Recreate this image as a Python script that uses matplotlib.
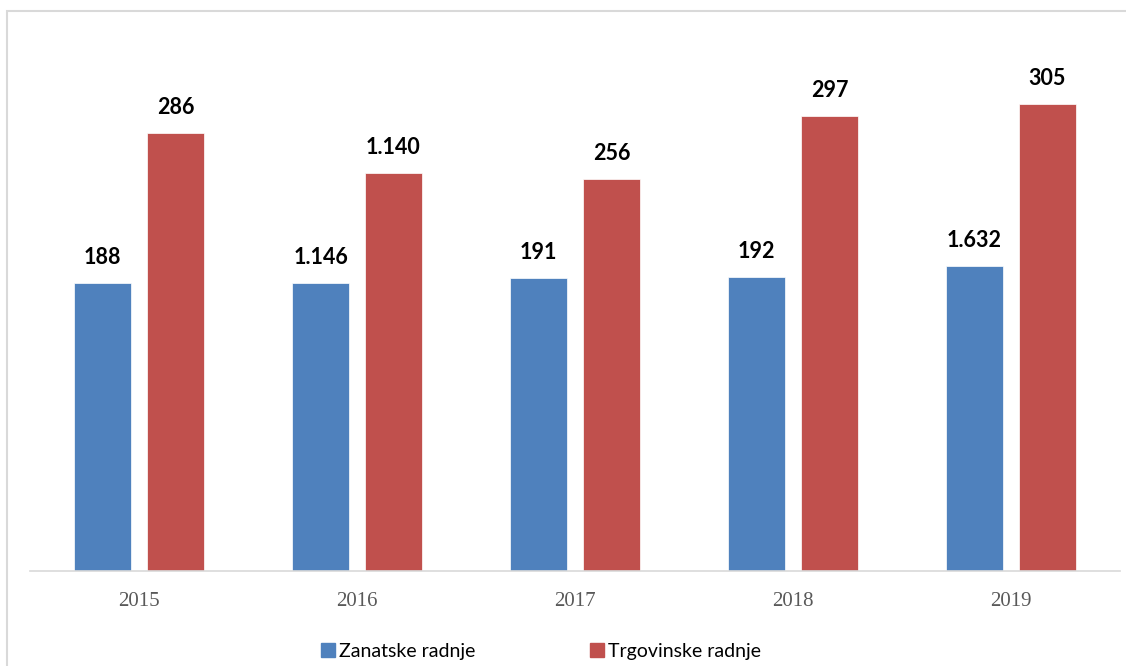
import numpy as np
import matplotlib.pyplot as plt
from matplotlib.patches import Rectangle, Patch

years = ['2015', '2016', '2017', '2018', '2019']
# bar heights as drawn in the picture
zanatske = [188, 188, 191, 192, 199]
trgovinske = [286, 260, 256, 297, 305]
# printed labels (as shown on the chart)
zanatske_lbl = ['188', '1.146', '191', '192', '1.632']
trgovinske_lbl = ['286', '1.140', '256', '297', '305']

blue = '#4f81bd'
red = '#c0504d'

fig = plt.figure(figsize=(11.26, 6.66), dpi=100)
W, H = 1126, 666
# outer chart border
fig.patches.append(Rectangle((7 / W, -0.1), 1.2, 1 - 11 / H + 0.1, transform=fig.transFigure,
                             fill=False, edgecolor='#d9d9d9', linewidth=1.5))

ax = fig.add_axes([30 / W, (H - 571) / H, (1120 - 30) / W, 536 / H])
x = np.arange(len(years))
bw = 0.26
off = 0.167
ax.bar(x - off, zanatske, bw, color=blue, edgecolor='white', linewidth=0.5)
ax.bar(x + off, trgovinske, bw, color=red, edgecolor='white', linewidth=0.5)

ax.set_xlim(-0.5, len(years) - 0.5)
ax.set_ylim(0, 350)
ax.set_yticks([])
ax.set_xticks(x)
ax.set_xticklabels(years, fontsize=15, color='#595959', family='Liberation Serif')
ax.tick_params(axis='x', length=0, pad=15)
for s in ['top', 'right', 'left']:
    ax.spines[s].set_visible(False)
ax.spines['bottom'].set_color('#d9d9d9')
ax.spines['bottom'].set_linewidth(1.2)

for xi, v, t in zip(x - off, zanatske, zanatske_lbl):
    ax.text(xi, v + 10, t, ha='center', va='bottom', fontsize=15.5, fontweight='bold', family='Lato')
for xi, v, t in zip(x + off, trgovinske, trgovinske_lbl):
    ax.text(xi, v + 10, t, ha='center', va='bottom', fontsize=15.5, fontweight='bold', family='Lato')

handles = [Patch(color=blue), Patch(color=red)]
fig.legend(handles, ['Zanatske radnje', 'Trgovinske radnje'], loc='center',
           bbox_to_anchor=(541 / W, 1 - 651 / H), ncol=2, frameon=False,
           prop={'family': 'Lato', 'size': 14}, handlelength=0.7, handleheight=0.7,
           handletextpad=0.2, columnspacing=5.9)

fig.savefig('out.png', dpi=100)
